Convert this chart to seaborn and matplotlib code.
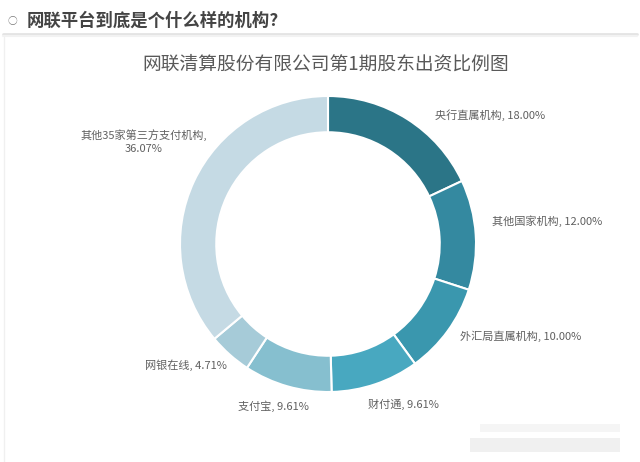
import numpy as np
import matplotlib
matplotlib.use("Agg")
import matplotlib.pyplot as plt
from matplotlib.lines import Line2D
import seaborn as sns

# data
categories = ["央行直属机构", "其他国家机构", "外汇局直属机构", "财付通", "支付宝", "网银在线",
              "其他35家第三方支付机构"]
shares = [18.00, 12.00, 10.00, 9.61, 9.61, 4.71, 36.07]
slice_colors = ["#2b7587", "#3489a0", "#3a97ae", "#48a8c0", "#86bfcf", "#a6cbd8", "#c5dae4"]

page_heading = "网联平台到底是个什么样的机构?"
chart_title = "网联清算股份有限公司第1期股东出资比例图"

sns.set_theme(style="white")
plt.rcParams['font.family'] = ['Noto Sans CJK SC', 'DejaVu Sans']

fig = plt.figure(figsize=(6.4, 4.62), dpi=100)
W, H = 640, 462

# page heading + rule
fig.text(12 / W, 1 - 21 / H, "○", fontsize=7, color="#777777", ha="center", va="center")
fig.text(27 / W, 1 - 21 / H, page_heading, fontsize=12.5, fontweight="bold",
         color="#444444", ha="left", va="center")
fig.add_artist(Line2D([0.005, 0.995], [1 - 33.5 / H] * 2, color="#e4e4e4", lw=2))
fig.add_artist(Line2D([0.005, 0.995], [1 - 35.5 / H] * 2, color="#f2f2f2", lw=1.5))
fig.add_artist(Line2D([4 / W, 4 / W], [0.0, 1 - 37 / H], color="#f0f0f0", lw=1))

fig.text(326 / W, 1 - 64 / H, chart_title, fontsize=13.5, color="#595959",
         ha="center", va="center")

# donut: centre at (328, 244) px, radius 148 px
R = 148
ax = fig.add_axes([(328 - 2.0 * R) / W, (H - 244 - 1.45 * R) / H, 4.0 * R / W, 2.9 * R / H])
wedges, _ = ax.pie(shares, colors=sns.color_palette(slice_colors), startangle=90,
                   counterclock=False, radius=1.0,
                   wedgeprops=dict(width=0.245, edgecolor="white", linewidth=1.5))
ax.set_xlim(-2.0, 2.0)
ax.set_ylim(-1.45, 1.45)
ax.axis("off")

# labels placed outside each slice
label_ha = ["left", "left", "left", "left", "right", "right", "right"]
label_nudge = [(0.134, -0.057), (0.010, 0.086), (0.002, 0.025), (-0.083, -0.039),
               (0.173, -0.037), (0.048, 0.004), (0.179, 0.225)]
for w, cat, val, ha, (dx, dy) in zip(wedges, categories, shares, label_ha, label_nudge):
    ang = np.deg2rad((w.theta1 + w.theta2) / 2)
    x = 1.1 * np.cos(ang) + dx
    y = 1.1 * np.sin(ang) + dy
    if cat.startswith("其他35"):
        txt = f"{cat},\n{val:.2f}%"
    else:
        txt = f"{cat}, {val:.2f}%"
    ax.text(x, y, txt, fontsize=8, color="#606060", ha=ha, va="center",
            multialignment="center", linespacing=1.4)

# faint blurred watermark at lower right
fig.add_artist(plt.Rectangle((480 / W, 1 - 432 / H), 140 / W, 8 / H, color="#f5f5f5", lw=0))
fig.add_artist(plt.Rectangle((470 / W, 1 - 452 / H), 150 / W, 14 / H, color="#f0f0f0", lw=0))

fig.savefig("out.png", dpi=100)
